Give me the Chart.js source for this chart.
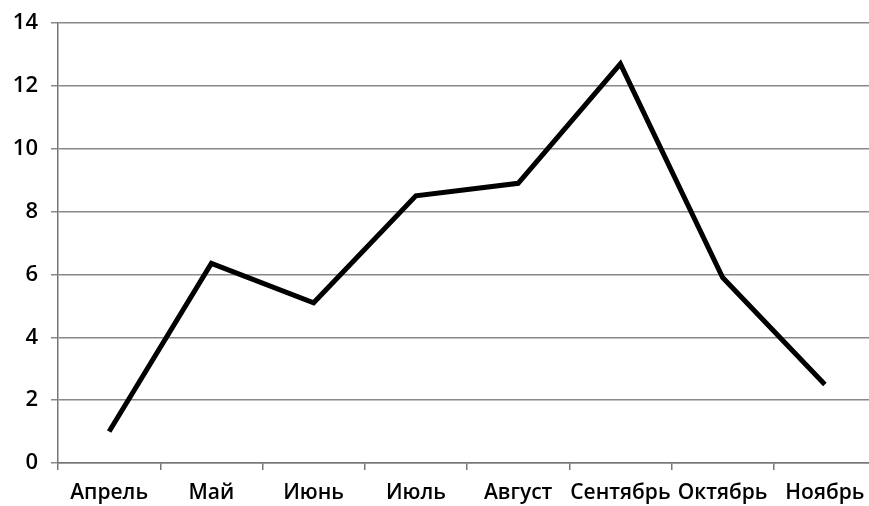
<!DOCTYPE html>
<html>
<head>
<meta charset="utf-8">
<script src="https://cdn.jsdelivr.net/npm/chart.js@4/dist/chart.umd.min.js"></script>
<style>
  html, body { margin: 0; padding: 0; background: #fff; overflow: hidden; }
  #wrap { width: 880px; height: 506px; }
</style>
</head>
<body>
<div id="wrap"><canvas id="chart" width="880" height="506"></canvas></div>
<script>
/* Данные по месяцам */
const months = ['Апрель', 'Май', 'Июнь', 'Июль', 'Август', 'Сентябрь', 'Октябрь', 'Ноябрь'];
const values = [1.0, 6.35, 5.1, 8.5, 8.9, 12.7, 5.9, 2.5];
const yTicks = [0, 2, 4, 6, 8, 10, 12, 14];

const xFont = { family: '"Open Sans", sans-serif', size: 21, weight: '600' };
const yFont = { family: '"Open Sans", sans-serif', size: 22, weight: '600' };

new Chart(document.getElementById('chart'), {
  type: 'line',
  data: {
    labels: months,
    datasets: [{
      data: values,
      borderColor: '#000',
      borderWidth: 5,
      borderJoinStyle: 'miter',
      tension: 0,
      pointRadius: 0,
      fill: false
    }]
  },
  options: {
    responsive: false,
    animation: false,
    layout: { padding: { top: 0, right: 4, left: 0, bottom: 0 } },
    plugins: { legend: { display: false }, tooltip: { enabled: false } },
    scales: {
      x: {
        offset: true,
        grid: { offset: true, drawOnChartArea: false, color: '#777', lineWidth: 1.5, tickLength: 7 },
        border: { color: '#777', width: 1.5 },
        ticks: { color: '#000', font: xFont, padding: 10, maxRotation: 0, autoSkip: false },
        afterFit: s => { s.height = 43; }
      },
      y: {
        min: 0,
        max: 14,
        afterBuildTicks: s => { s.ticks = yTicks.map(v => ({ value: v })); },
        grid: { color: '#888', lineWidth: 1.5, tickLength: 7 },
        border: { color: '#777', width: 1.5 },
        ticks: { color: '#000', font: yFont, padding: 13 },
        afterFit: s => { s.width = 58; s.paddingTop = 23; }
      }
    }
  }
});
</script>
</body>
</html>
